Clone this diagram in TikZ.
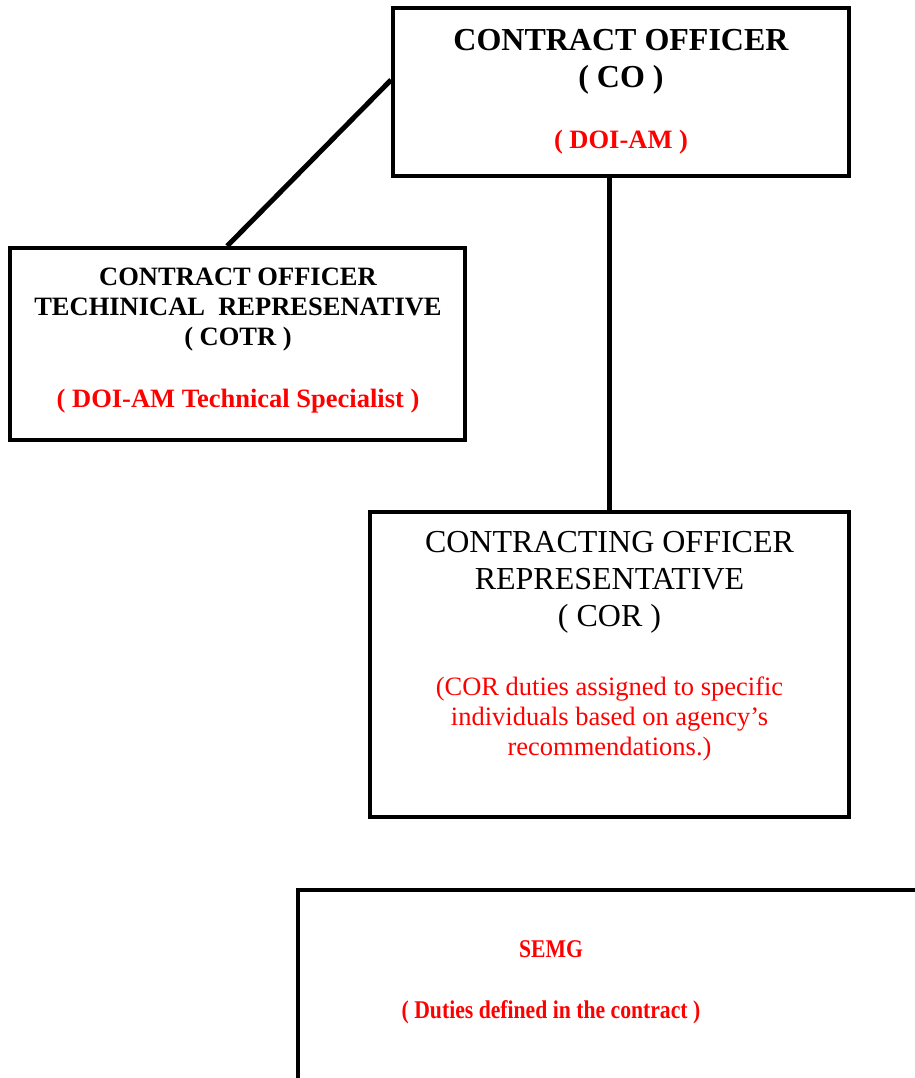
\documentclass[tikz,border=0pt]{standalone}
\usepackage{fontspec}
\setmainfont{Liberation Serif}
\usepackage{graphicx}
\usepackage{xcolor}
\usetikzlibrary{positioning}
\definecolor{notered}{RGB}{255,0,0}

\begin{document}
\begin{tikzpicture}[x=1pt,y=-1pt,
    box/.style={draw,line width=4pt,inner sep=0pt},
    link/.style={line width=5pt},
    headbig/.style={anchor=base,align=center,font=\fontsize{32}{37}\selectfont\bfseries},
    headmid/.style={anchor=base,align=center,font=\fontsize{26.5}{30}\selectfont\bfseries},
    plainbig/.style={anchor=base,align=center,font=\fontsize{32}{37}\selectfont},
    redbold/.style={anchor=base,align=center,text=notered,font=\fontsize{26.5}{30}\selectfont\bfseries},
    redplain/.style={anchor=base,align=center,text=notered,font=\fontsize{26.5}{30}\selectfont}]
  \useasboundingbox (0,0) rectangle (914,1078);
  \fill[white] (0,0) rectangle (914,1078);

  % boxes
  \node[box,minimum width=456pt,minimum height=168pt] (co) at (621,92) {};
  \node[box,minimum width=455pt,minimum height=192pt] (cotr) at (237.5,344) {};
  \node[box,minimum width=479pt,minimum height=305pt] (cor) at (609.5,664.5) {};
  \draw[line width=4pt] (298,890) rectangle (960,1120);

  % links
  \draw[link] (co.177) -- (cotr.96);
  \draw[link] (co.south -| cor.north) -- (cor.north);

  % CO (base = last line)
  \node[headbig] (cotitle) at (621,88) {CONTRACT OFFICER\\( CO )};
  \node[redbold] (coorg) at (621,149) {( DOI-AM )};

  % COTR
  \node[headmid] (cotrtitle) at (238,345) {CONTRACT OFFICER\\TECHINICAL\ \ REPRESENATIVE\\( COTR )};
  \node[redbold] (cotrorg) at (238,407) {( DOI-AM Technical Specialist )};

  % COR
  \node[plainbig] (cortitle) at (609.5,626) {CONTRACTING OFFICER\\REPRESENTATIVE\\( COR )};
  \node[redplain] (cornote) at (609.5,755) {(COR duties assigned to specific\\individuals based on agency's\\recommendations.)};

  % SEMG
  \node[redbold,font=\fontsize{25.5}{30}\selectfont\bfseries] (semg) at (551,957) {\scalebox{0.85}[1]{SEMG}};
  \node[redbold,font=\fontsize{25.5}{30}\selectfont\bfseries] (semgnote) at (551,1018) {\scalebox{0.85}[1]{( Duties defined in the contract )}};
\end{tikzpicture}
\end{document}
